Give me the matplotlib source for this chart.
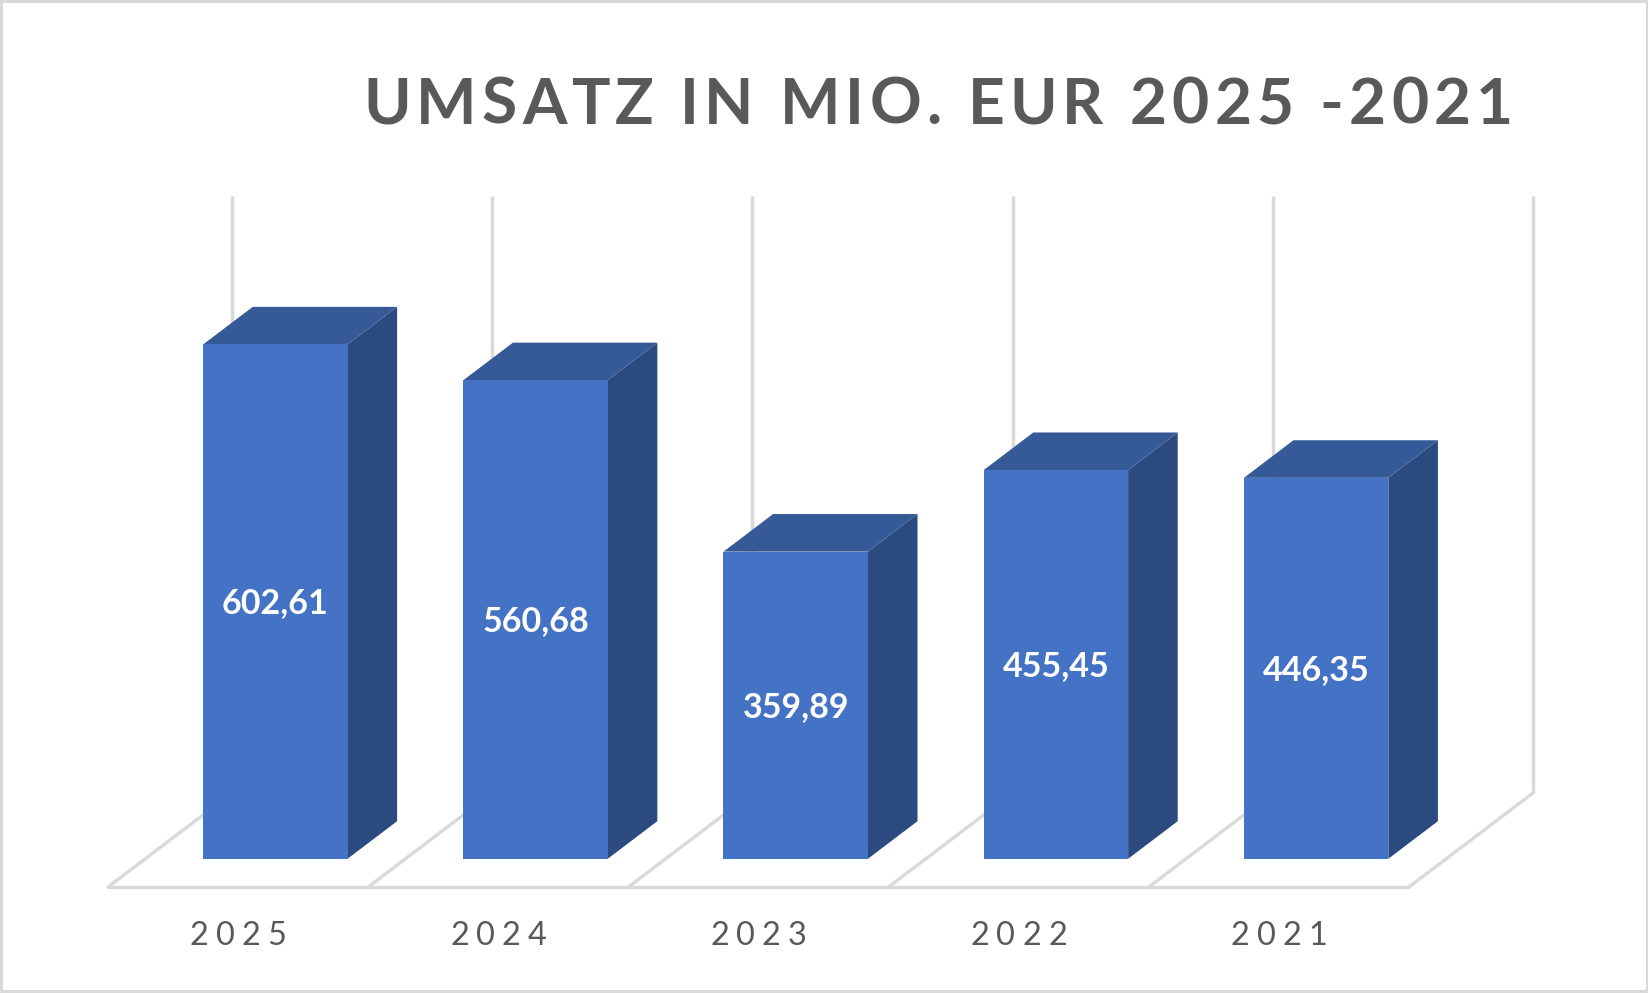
import matplotlib
matplotlib.use('Agg')
import matplotlib.pyplot as plt
from matplotlib.patches import Polygon, Rectangle
from matplotlib import font_manager
from matplotlib.ft2font import FT2Font

# -------------- data --------------
years = ['2025', '2024', '2023', '2022', '2021']
umsatz = [602.61, 560.68, 359.89, 455.45, 446.35]
title = 'UMSATZ IN MIO. EUR 2025 -2021'
y_max = 700

# -------------- layout (pixels of the 1649x993 picture) --------------
W, H, DPI = 1649, 993, 100
X0_PX = 108.0        # left end of the front floor edge
CAT_PX = 260.2       # width of one category
FLOOR_PX = 887.0     # front floor edge, from top
VAL_PX = 0.8535      # pixels per EUR mio
DEPTH_PX = (124.0, 94.0)

DX = DEPTH_PX[0] / CAT_PX
DY = DEPTH_PX[1] / VAL_PX
BAR_W = 0.555
Z_FRONT, Z_BACK = 0.30, 0.70

FRONT = '#4472C4'
TOP = '#355A97'
SIDE = '#2B4A7F'
GRID = '#D9D9D9'
TEXT = '#595959'
FONT = 'Lato'


def proj(x, y, z):
    return (x + z * DX, y + z * DY)


def spaced_text(fig, x_px, y_px, s, size, weight, color, gap=None, width=None, ha='left'):
    fp = font_manager.FontProperties(family=FONT, weight=weight, size=size)
    font = FT2Font(font_manager.findfont(fp))
    font.set_size(size, DPI)
    adv = [font.load_char(ord(c)).linearHoriAdvance / 65536 for c in s]
    if width is not None:
        gap = (width - sum(adv)) / (len(s) - 1)
    total = sum(adv) + gap * (len(s) - 1)
    x = x_px - total / 2 if ha == 'center' else x_px
    for c, a in zip(s, adv):
        fig.text(x / W, 1 - y_px / H, c, fontproperties=fp, color=color,
                 ha='left', va='baseline')
        x += a + gap


fig = plt.figure(figsize=(W / DPI, H / DPI), dpi=DPI)
ax = fig.add_axes([0, 0, 1, 1])
ax.set_xlim(-X0_PX / CAT_PX, (W - X0_PX) / CAT_PX)
ax.set_ylim(-(H - FLOOR_PX) / VAL_PX, FLOOR_PX / VAL_PX)
ax.axis('off')

n = len(years)

# ---- back wall gridlines and floor ----
for k in range(n + 1):
    (xa, ya), (xb, yb) = proj(k, 0, 1), proj(k, y_max, 1)
    ax.plot([xa, xb], [ya, yb], color=GRID, lw=2.5, zorder=1, solid_capstyle='butt')
    (xa, ya), (xb, yb) = proj(k, 0, 0), proj(k, 0, 1)
    ax.plot([xa, xb], [ya, yb], color=GRID, lw=2.4, zorder=1, solid_capstyle='round')
(xa, ya), (xb, yb) = proj(0, 0, 0), proj(n, 0, 0)
ax.plot([xa, xb], [ya, yb], color=GRID, lw=2.4, zorder=1, solid_capstyle='round')

# ---- bars ----
for i, v in enumerate(umsatz):
    x0 = i + (1 - BAR_W) / 2
    x1 = x0 + BAR_W
    front = [proj(x0, 0, Z_FRONT), proj(x1, 0, Z_FRONT), proj(x1, v, Z_FRONT), proj(x0, v, Z_FRONT)]
    side = [proj(x1, 0, Z_FRONT), proj(x1, 0, Z_BACK), proj(x1, v, Z_BACK), proj(x1, v, Z_FRONT)]
    top = [proj(x0, v, Z_FRONT), proj(x1, v, Z_FRONT), proj(x1, v, Z_BACK), proj(x0, v, Z_BACK)]
    ax.add_patch(Polygon(side, closed=True, fc=SIDE, ec='none', zorder=2))
    ax.add_patch(Polygon(top, closed=True, fc=TOP, ec='none', zorder=2))
    ax.add_patch(Polygon(front, closed=True, fc=FRONT, ec='none', zorder=3))
    cx, cy = proj((x0 + x1) / 2, v / 2, Z_FRONT)
    ax.text(cx, cy - 11.5 / VAL_PX, f'{v:.2f}'.replace('.', ','), color='white',
            fontsize=24.5, fontweight='bold', family=FONT,
            ha='center', va='baseline', zorder=4)

# ---- category labels ----
for k, yr in enumerate(years):
    spaced_text(fig, X0_PX + (k + 0.5) * CAT_PX, 945, yr, 23.4, 'normal', TEXT,
                gap=7.0, ha='center')

# ---- title ----
spaced_text(fig, 363, 124, title, 46.2, 'bold', TEXT, width=1150)

# ---- frame ----
fig.add_artist(Rectangle((0, 0), 1, 1, transform=fig.transFigure, fill=False,
                         ec=GRID, lw=4.3))

fig.savefig('out.png', dpi=DPI)
